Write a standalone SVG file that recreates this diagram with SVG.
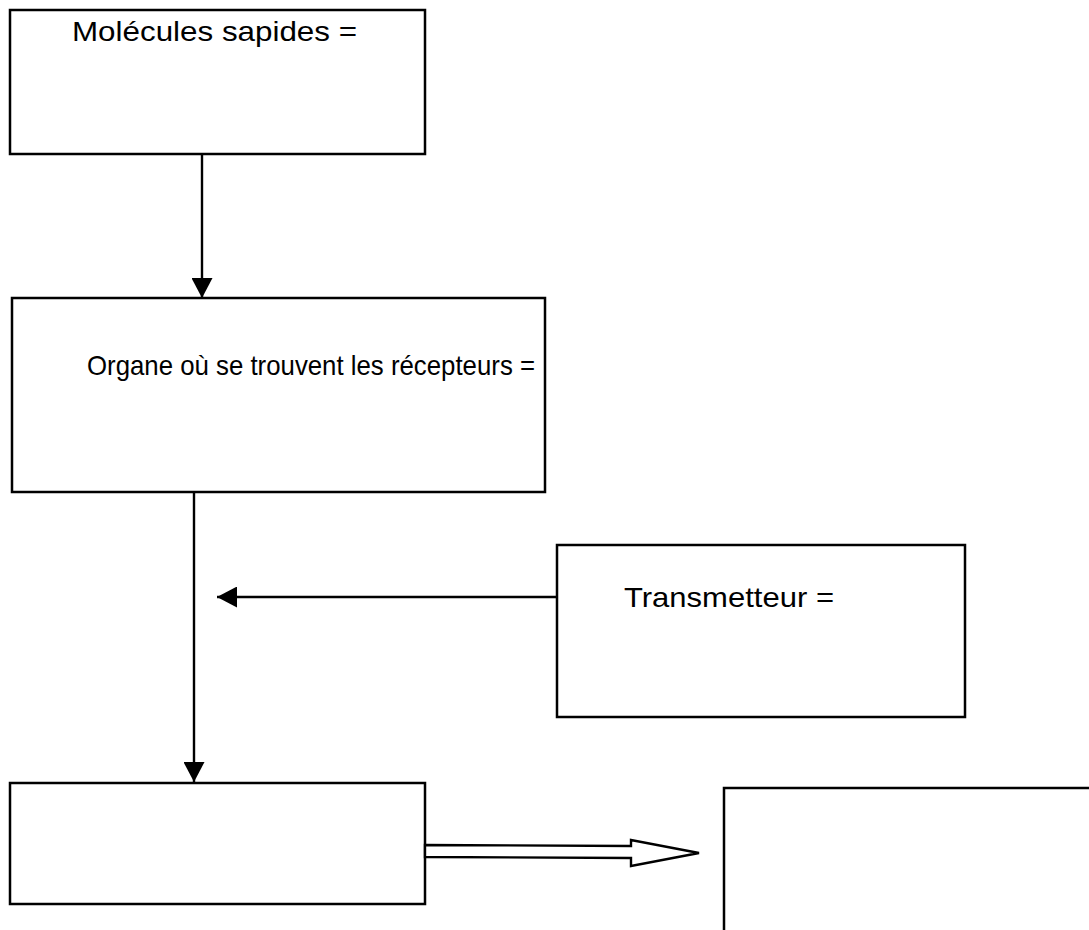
<svg xmlns="http://www.w3.org/2000/svg" width="1089" height="930" viewBox="0 0 1089 930">
<style>
.box{fill:#fff;stroke:#000;stroke-width:2.5}
.lbl{font-family:"Liberation Sans",Arial,sans-serif;font-size:28px;fill:#000}
.ln{stroke:#000;stroke-width:2.4;fill:none}
</style>
<defs>
<marker id="ah" viewBox="0 0 20 21" refX="20" refY="10.5" markerWidth="20" markerHeight="21" markerUnits="userSpaceOnUse" orient="auto">
<path d="M0,0 L20,10.5 L0,21 Z" fill="#000"/>
</marker>
</defs>
<rect width="1089" height="930" fill="#fff"/>
<g id="n1">
<rect class="box" x="10" y="10" width="415" height="144"/>
<text class="lbl" x="72" y="41" textLength="285" lengthAdjust="spacingAndGlyphs">Molécules sapides =</text>
</g>
<g id="n2">
<rect class="box" x="12" y="298" width="533" height="194"/>
<text class="lbl" x="87" y="375" textLength="448" lengthAdjust="spacingAndGlyphs">Organe où se trouvent les récepteurs =</text>
</g>
<g id="n3">
<rect class="box" x="557" y="545" width="408" height="172"/>
<text class="lbl" x="624" y="607" textLength="210" lengthAdjust="spacingAndGlyphs">Transmetteur =</text>
</g>
<g id="n4">
<rect class="box" x="10" y="783" width="415" height="121"/>
</g>
<g id="n5">
<rect class="box" x="724" y="788" width="368" height="145"/>
</g>
<g id="connectors">
<line class="ln" x1="202" y1="154" x2="202" y2="298" marker-end="url(#ah)"/>
<line class="ln" x1="194" y1="492" x2="194" y2="782" marker-end="url(#ah)"/>
<line class="ln" x1="557" y1="597" x2="217" y2="597" marker-end="url(#ah)"/>
<path d="M425,845 L631,846 L631,840 L699,853 L631,866 L631,858 L425,857 Z" fill="#fff" stroke="#000" stroke-width="2.4" stroke-linejoin="miter"/>
</g>
</svg>
